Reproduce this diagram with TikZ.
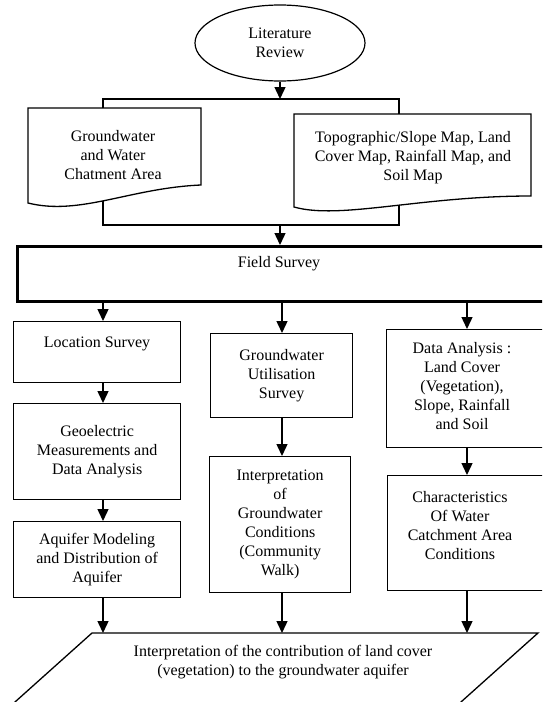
\documentclass[tikz,border=0pt]{standalone}
\usepackage{fontspec}
\setmainfont{Liberation Serif}
\usetikzlibrary{arrows.meta,shapes.geometric}
\begin{document}
\begin{tikzpicture}[x=1pt,y=-1pt,
  box/.style={draw, line width=1.3pt, rectangle, inner sep=0pt},
  txt/.style={align=center, font=\fontsize{16}{19}\selectfont, inner sep=0pt},
  arr/.style={line width=1.4pt, -{Triangle[length=12pt,width=11pt]}},
  ln/.style={line width=1.3pt}]
\useasboundingbox (0,0) rectangle (542,702);
\clip (0,0) rectangle (542,702);

% column x positions for connectors
\coordinate (xa) at (103,0);
\coordinate (xb) at (282,0);
\coordinate (xc) at (467,0);

% Literature review
\node[ellipse, draw, line width=1.2pt, minimum width=170pt, minimum height=76pt,
      txt] (lit) at (280,43) {Literature\\Review};

% top split bar
\coordinate (b1m) at (280,99);
\coordinate (b1l) at (103,99);
\coordinate (b1r) at (399,99);
\coordinate (d1t) at (103,108);
\coordinate (d2t) at (399,114);
\coordinate (d1b) at (103,200.5);
\coordinate (d2b) at (399,205);
\coordinate (b2l) at (103,225);
\coordinate (b2m) at (280,225);
\coordinate (b2r) at (399,225);

% document shapes
\draw[ln] (28,203) -- (28,108) -- (201,108) -- (201,185)
  .. controls (130,188) and (80,216) .. cycle;
\node[txt] (doc1) at (113,155) {Groundwater\\and Water\\Chatment Area};
\draw[ln] (294,207) -- (294,114) -- (531,114) -- (531,196)
  .. controls (420,196) and (340,220) .. cycle;
\node[txt] (doc2) at (413,158) {Topographic/Slope Map, Land\\Cover Map, Rainfall Map, and\\Soil Map};

\draw[arr] (lit.south) -- (b1m);
\draw[ln] (d1t) -- (b1l) -- (b1r) -- (d2t);
\draw[ln] (d1b) -- (b2l) -- (b2r) -- (d2b);

% Field survey
\node[draw, line width=3pt, rectangle, minimum width=530pt, minimum height=55pt,
      anchor=north west] (fs) at (16,245) {};
\node[txt] (fst) at (279,264) {Field Survey};
\draw[arr] (b2m) -- (fs.north -| b2m);

% column 1
\node[box, minimum width=167pt, minimum height=61pt, anchor=north west] (loc) at (13,321) {};
\node[txt] at (97,344) {Location Survey};
\node[box, minimum width=167pt, minimum height=96pt, anchor=north west, txt] (geo) at (13,403) {Geoelectric\\Measurements and\\Data Analysis};
\node[box, minimum width=167pt, minimum height=76pt, anchor=north west, txt] (aqu) at (13,521) {Aquifer Modeling\\and Distribution of\\Aquifer};

% column 2
\node[box, minimum width=142pt, minimum height=84pt, anchor=north west, txt] (gus) at (210,333) {Groundwater\\Utilisation\\Survey};
\node[box, minimum width=141pt, minimum height=136pt, anchor=north west, txt] (int) at (209,456) {Interpretation\\of\\Groundwater\\Conditions\\(Community\\Walk)};

% column 3
\node[box, minimum width=170pt, minimum height=118pt, anchor=north west] (dat) at (386,329) {};
\node[txt] at (462,386) {Data Analysis :\\Land Cover\\(Vegetation),\\Slope, Rainfall\\and Soil};
\node[box, minimum width=170pt, minimum height=115pt, anchor=north west] (cha) at (387,475) {};
\node[txt] at (460,526) {Characteristics\\Of Water\\Catchment Area\\Conditions};

% result parallelogram
\coordinate (pt) at (0,633);
\draw[ln] (92,633) -- (538,633) -- (449.8,712) -- (3.8,712) -- cycle;
\node[txt] (res) at (283,662) {Interpretation of the contribution of land cover\\(vegetation) to the groundwater aquifer};

% arrows
\draw[arr] (fs.south -| xa) -- (loc.north -| xa);
\draw[arr] (loc.south -| xa) -- (geo.north -| xa);
\draw[arr] (geo.south -| xa) -- (aqu.north -| xa);
\draw[arr] (aqu.south -| xa) -- (pt -| xa);
\draw[arr] (fs.south -| xb) -- (gus.north -| xb);
\draw[arr] (gus.south -| xb) -- (int.north -| xb);
\draw[arr] (int.south -| xb) -- (pt -| xb);
\draw[arr] (fs.south -| xc) -- (dat.north -| xc);
\draw[arr] (dat.south -| xc) -- (cha.north -| xc);
\draw[arr] (cha.south -| xc) -- (pt -| xc);
\end{tikzpicture}
\end{document}
